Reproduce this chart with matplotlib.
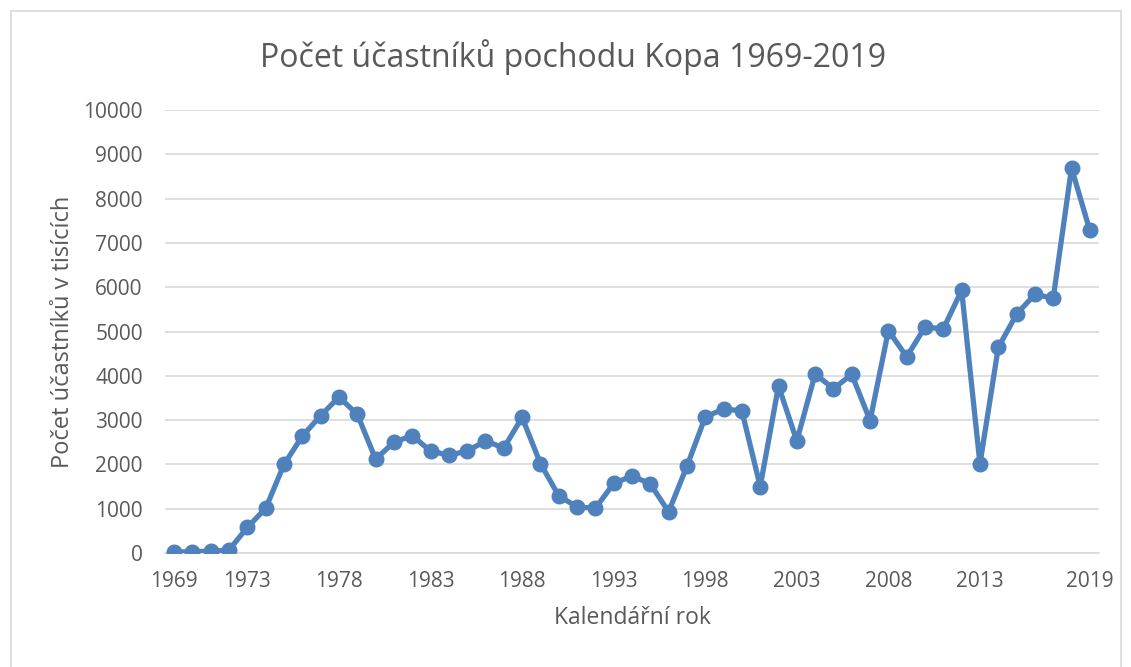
import matplotlib.pyplot as plt
from matplotlib.patches import Rectangle

# data
years = list(range(1969, 2020))
participants = [20, 30, 40, 70, 580, 1010, 2000, 2640, 3100, 3520,
                3130, 2120, 2500, 2650, 2300, 2210, 2300, 2530, 2370, 3060,
                2020, 1290, 1040, 1010, 1570, 1740, 1560, 930, 1960, 3070,
                3250, 3210, 1500, 3770, 2530, 4040, 3710, 4030, 2990, 5020,
                4430, 5100, 5060, 5930, 2010, 4640, 5390, 5840, 5750, 8690,
                7280]
tick_years = [1969, 1973, 1978, 1983, 1988, 1993, 1998, 2003, 2008, 2013, 2019]

plt.rcParams['font.family'] = ['Open Sans', 'DejaVu Sans']
text_col = '#595959'
grid_col = '#d9d9d9'

fig = plt.figure(figsize=(11.31, 6.67), dpi=100)
ax = fig.add_axes([165 / 1131, 114 / 667, 934 / 1131, 443 / 667])

# chart border
fig.patches.append(Rectangle((11 / 1131, -0.01), 1110 / 1131, 1 - 11 / 667 + 0.01,
                             transform=fig.transFigure, fill=False,
                             edgecolor=grid_col, linewidth=1.2))

ax.plot(years, participants, color='#4f81bd', linewidth=3.8,
        marker='o', markersize=10.5, solid_joinstyle='round', zorder=3)

ax.set_xlim(1968.5, 2019.5)
ax.set_ylim(0, 10000)
ax.set_yticks(range(0, 10001, 1000))
ax.set_xticks(tick_years)
ax.set_xticklabels([str(y) for y in tick_years])
ax.grid(axis='y', color=grid_col, linewidth=1.2)
ax.set_axisbelow(True)
for side in ['top', 'right', 'left']:
    ax.spines[side].set_visible(False)
ax.spines['bottom'].set_color(grid_col)
ax.spines['bottom'].set_linewidth(1.2)
ax.tick_params(length=0, labelsize=15, labelcolor=text_col)
ax.tick_params(axis='y', pad=16)
ax.tick_params(axis='x', pad=13)

fig.text(0.507, 1 - 57 / 667, 'Počet účastníků pochodu Kopa 1969-2019', ha='center',
         va='center', fontsize=23, color=text_col)
ax.set_ylabel('Počet účastníků v tisících', fontsize=17, color=text_col, labelpad=6)
ax.set_xlabel('Kalendářní rok', fontsize=16.5, color=text_col, labelpad=10)

fig.savefig('out.png', dpi=100)
